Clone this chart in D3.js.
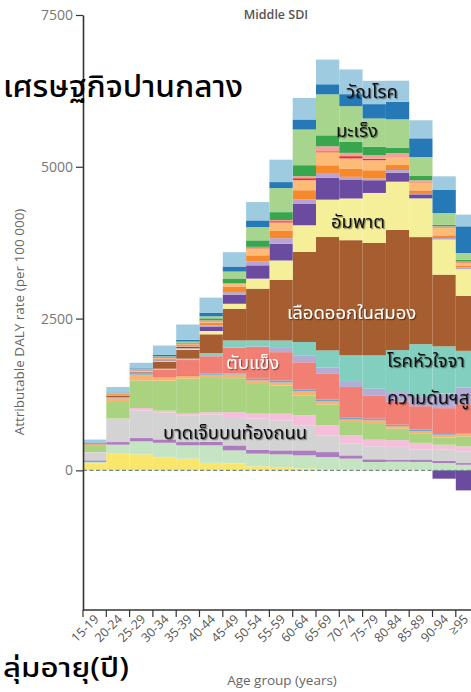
<!DOCTYPE html>
<html>
<head>
<meta charset="utf-8">
<script src="https://cdn.jsdelivr.net/npm/d3@7"></script>
<style>
  html, body { margin: 0; padding: 0; background: #fff; }
  svg { display: block; }
  .thai { font-family: "Noto Sans Thai", "Noto Sans Thai UI", Tahoma, Loma, Garuda, "Noto Sans", sans-serif; }
  .latin { font-family: "Open Sans", "Noto Sans", sans-serif; }
</style>
</head>
<body>
<svg id="chart" width="471" height="692"></svg>
<script>
// Age groups on the x axis
const ageGroups = ["15-19","20-24","25-29","30-34","35-39","40-44","45-49","50-54","55-59",
                   "60-64","65-69","70-74","75-79","80-84","85-89","90-94","≥95"];

// Attributable DALY rate (per 100 000) by cause, one value per age group
const selfHarm       = [115,275,264,214,193,124,115, 66, 54, 33, 16, 12,  8,  8, 10, 10, 10];
const violence       = [ 25,148,214,240,219,288,214,209,209,214,203,181,130,135,129,109, 82];
const otherInjury    = [ 25, 43, 54, 56, 54, 56, 82, 66, 66, 82, 82, 54, 44, 28, 40, 40, 28];
const roadInjury     = [132,379,456,440,440,450,466,511,494,412,275,193,213,216,165,181,193];
const epilepsy       = [  5,  8, 38, 33, 28, 40, 82, 82,110,165,165,137,110,110,109, 82, 82];
const alcoholUse     = [ 99,288,456,495,577,580,560,504,466,330,346,219,274,193,148,120,165];
const pancreatitis   = [ 25, 43, 94, 45, 43, 36, 61, 44, 49, 66, 49, 40, 44, 38, 44, 44, 38];
const diabetes       = [  0,  5, 12,  8, 16, 20, 16, 28, 33, 33, 33, 30, 28, 25, 28, 12,  8];
const cirrhosis      = [  5, 13, 16,125,247,285,424,524,466,445,428,508,384,376,384,427,484];
const hypertensive   = [  0,  0,  3,  5,  5,  5,  8,  8, 82,115, 99, 82,110,160,165,242,274];
const cardiomyopathy = [  0,  3,  3, 13, 18, 49,112, 99,110,219,280,440,549,692,857,775,605];
const haemStroke     = [  5, 20, 10,119,148,308,522,852,1000,1483,1867,1895,1851,1978,1763,1182,906];
const ischStroke     = [  0,  5, 13, 16, 21, 54, 82,165,318,440,616,687,824,796,638,577,440];
const ischHeart      = [  0,  5, 10, 16, 25, 66,148,219,275,358,363,313,209,148, 66,-137,-330];
const atrialFib      = [  0,  0,  3,  5,  8, 28, 43, 66, 92, 66, 76, 43, 28, 44,  8, 26, 28];
const liverCancer    = [  5, 20,  5, 11, 21, 41, 94, 99,127,153,127,138,137, 82, 58, 44, 33];
const oesophCancer   = [  0,  8,  5,  8, 16, 25, 41,115,132,165,214,165,165,132,132,132, 49];
const colorectal     = [  0,  3,  3, 11, 11,  8,  8, 16, 21, 33, 16, 38, 25,  8,  8,  8, 12];
const breastCancer   = [  0,  0,  0,  5,  5,  8,  8,  8, 20, 33, 82, 54, 58, 58, 25,  8,  5];
const larynxCancer   = [  0,  3,  3,  5, 11, 33, 74,107,129,181,181,181,137, 82, 71, 28, 28];
const otherCancers   = [  0,  5,  5,  8, 16, 33,115,219,396,588,676,588,468,473,313,191,109];
const lri            = [  8,  8, 13, 28, 28, 61, 82,110, 99,165,165,198,236,290,308,386,440];
const tuberculosis   = [ 58, 91, 92,150,252,247,236,302,369,356,407,407,384,346,297,219,193];

const yTicks = [0, 2500, 5000, 7500];

// Stack order, bottom to top
const causes = [
  ["selfHarm", selfHarm], ["violence", violence], ["otherInjury", otherInjury],
  ["roadInjury", roadInjury], ["epilepsy", epilepsy], ["alcoholUse", alcoholUse],
  ["pancreatitis", pancreatitis], ["diabetes", diabetes], ["cirrhosis", cirrhosis],
  ["hypertensive", hypertensive], ["cardiomyopathy", cardiomyopathy], ["haemStroke", haemStroke],
  ["ischStroke", ischStroke], ["ischHeart", ischHeart], ["atrialFib", atrialFib],
  ["liverCancer", liverCancer], ["oesophCancer", oesophCancer], ["colorectal", colorectal],
  ["breastCancer", breastCancer], ["larynxCancer", larynxCancer], ["otherCancers", otherCancers],
  ["lri", lri], ["tuberculosis", tuberculosis]
];

const colours = {
  selfHarm: "#fbe66c", violence: "#c5e5c2", otherInjury: "#ab7cbe", roadInjury: "#d3d3d3",
  epilepsy: "#f5bfdb", alcoholUse: "#a9d37f", pancreatitis: "#fbb26f", diabetes: "#6ea6d2",
  cirrhosis: "#f17f73", hypertensive: "#b3acd4", cardiomyopathy: "#82cfc0", haemStroke: "#a65d2f",
  ischStroke: "#f6ef99", ischHeart: "#6b4ba0", atrialFib: "#b8a4d4", liverCancer: "#f5892c",
  oesophCancer: "#fdbb78", colorectal: "#e5312f", breastCancer: "#f4a19b", larynxCancer: "#37a64c",
  otherCancers: "#a7d58e", lri: "#2479b6", tuberculosis: "#9fcbe1"
};

const keys = causes.map(c => c[0]);
const table = ageGroups.map((age, i) => {
  const row = { age };
  causes.forEach(([k, vals]) => { row[k] = vals[i]; });
  return row;
});

const svg = d3.select("#chart");

const barStep = 23.3;
const x = d3.scaleBand().domain(ageGroups).range([83, 83 + barStep * ageGroups.length]).padding(0);
const y = d3.scaleLinear().domain([-2300, 7500]).range([610, 15]);

const defs = svg.append("defs");
defs.append("filter").attr("id", "shadow").attr("x", "-10%").attr("y", "-30%")
  .attr("width", "130%").attr("height", "170%")
  .append("feDropShadow").attr("dx", 1.2).attr("dy", 1.2).attr("stdDeviation", 0.7)
  .attr("flood-color", "#000").attr("flood-opacity", 0.45);

// Stacked bars
const stacked = d3.stack().keys(keys).offset(d3.stackOffsetDiverging)(table);
svg.append("g").selectAll("g")
  .data(stacked)
  .join("g")
  .attr("fill", s => colours[s.key])
  .selectAll("rect")
  .data(s => s)
  .join("rect")
  .attr("x", d => x(d.data.age))
  .attr("width", x.bandwidth())
  .attr("y", d => y(Math.max(d[0], d[1])))
  .attr("height", d => Math.abs(y(d[0]) - y(d[1])));

// Zero reference line
svg.append("line")
  .attr("x1", 83).attr("x2", 471)
  .attr("y1", y(0)).attr("y2", y(0))
  .attr("stroke", "#6d8796").attr("stroke-width", 1.3)
  .attr("stroke-dasharray", "4,2.5");

// Y axis
const yAxis = svg.append("g")
  .attr("transform", "translate(83,0)")
  .call(d3.axisLeft(y).tickValues(yTicks).tickFormat(d3.format("d")).tickSize(7).tickSizeOuter(0));
yAxis.select(".domain").attr("stroke", "#333").attr("stroke-width", 1.6);
yAxis.selectAll(".tick line").attr("stroke", "#333").attr("stroke-width", 1.2);
yAxis.selectAll(".tick text").attr("class", "latin").attr("font-size", 14)
  .attr("fill", "#777").attr("x", -10);

// X axis: ticks on bar boundaries, labels rotated
const xAxis = svg.append("g").attr("transform", "translate(0,610)");
xAxis.append("line").attr("x1", 83).attr("x2", 471).attr("y1", 0).attr("y2", 0)
  .attr("stroke", "#333").attr("stroke-width", 1.6);
xAxis.selectAll("line.tk").data(ageGroups).join("line").attr("class", "tk")
  .attr("x1", d => x(d)).attr("x2", d => x(d)).attr("y1", 0).attr("y2", 7)
  .attr("stroke", "#333").attr("stroke-width", 1.2);
xAxis.selectAll("text").data(ageGroups).join("text")
  .attr("class", "latin").attr("font-size", 12.5).attr("fill", "#555")
  .attr("text-anchor", "end")
  .attr("transform", d => `translate(${Math.min(x(d) + x.bandwidth() / 2 + 5, 469)},${10}) rotate(-45)`)
  .text(d => d);

// Axis titles and panel title
svg.append("text").attr("class", "latin")
  .attr("transform", "translate(24,322) rotate(-90)")
  .attr("text-anchor", "middle").attr("font-size", 13.5).attr("fill", "#666")
  .text("Attributable DALY rate (per 100 000)");
svg.append("text").attr("class", "latin")
  .attr("x", 282).attr("y", 685).attr("text-anchor", "middle")
  .attr("font-size", 13.5).attr("fill", "#666")
  .text("Age group (years)");
svg.append("text").attr("class", "latin")
  .attr("x", 276).attr("y", 19).attr("text-anchor", "middle")
  .attr("font-size", 12.5).attr("font-weight", 600).attr("fill", "#555")
  .text("Middle SDI");

// Thai headings
svg.append("text").attr("class", "thai")
  .attr("x", 3).attr("y", 97).attr("font-size", 30).attr("font-weight", 500).attr("fill", "#000")
  .attr("textLength", 240).attr("lengthAdjust", "spacingAndGlyphs")
  .text("เศรษฐกิจปานกลาง");
svg.append("text").attr("class", "thai")
  .attr("x", 3).attr("y", 677).attr("font-size", 27).attr("font-weight", 500).attr("fill", "#000")
  .attr("textLength", 126).attr("lengthAdjust", "spacingAndGlyphs")
  .text("ลุ่มอายุ(ปี)");

// Cause labels on the stacked areas
const causeLabels = [
  { text: "วัณโรค", x: 346, y: 98, fill: "#111" },
  { text: "มะเร็ง", x: 336, y: 137, fill: "#111" },
  { text: "อัมพาต", x: 331, y: 228, fill: "#111" },
  { text: "เลือดออกในสมอง", x: 287, y: 319, fill: "#fff" },
  { text: "ตับแข็ง", x: 226, y: 369, fill: "#fff" },
  { text: "โรคหัวใจจา", x: 387, y: 367, fill: "#111" },
  { text: "ความดันฯสู", x: 387, y: 404, fill: "#111" },
  { text: "บาดเจ็บบนท้องถนน", x: 163, y: 439, fill: "#111" }
];
svg.append("g").selectAll("text").data(causeLabels).join("text")
  .attr("class", "thai")
  .attr("x", d => d.x).attr("y", d => d.y)
  .attr("font-size", 18.5).attr("fill", d => d.fill)
  .attr("filter", "url(#shadow)")
  .text(d => d.text);
</script>
</body>
</html>
